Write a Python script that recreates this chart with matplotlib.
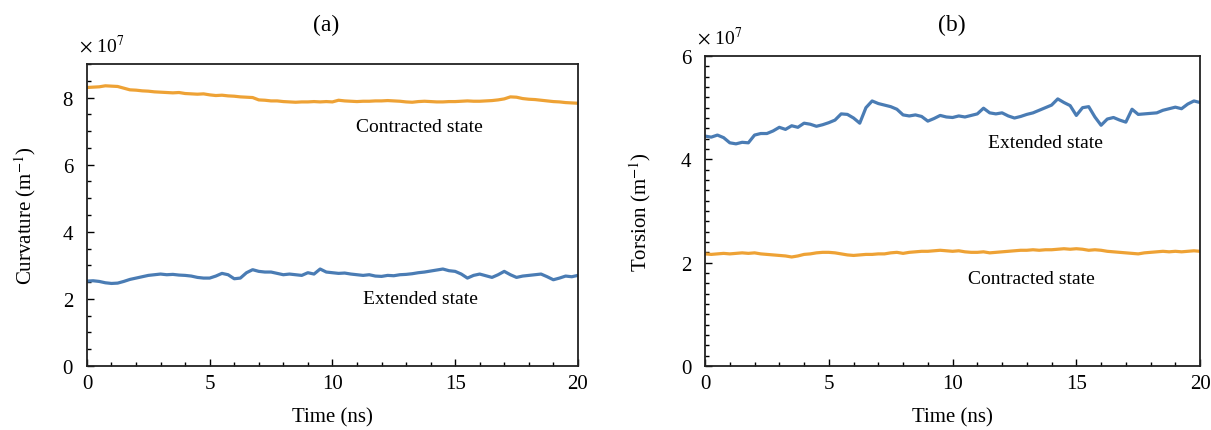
import numpy as np
import matplotlib
matplotlib.use('Agg')
import matplotlib.pyplot as plt
from matplotlib.ticker import MultipleLocator

plt.rcParams['font.family'] = 'Liberation Serif'
plt.rcParams['mathtext.fontset'] = 'stix'

# время моделирования, нс (шаг 0.25)
time_ns = np.arange(0, 20.001, 0.25)

# кривизна, x 1e7 1/м
curv_contracted = [8.30, 8.31, 8.32, 8.35, 8.34, 8.33, 8.28, 8.23, 8.22, 8.20, 8.19, 8.17, 8.16, 8.15, 8.14, 8.15,
	8.12, 8.11, 8.10, 8.11, 8.08, 8.06, 8.07, 8.05, 8.04, 8.02, 8.01, 8.00, 7.93, 7.92, 7.90, 7.90,
	7.88, 7.87, 7.86, 7.87, 7.87, 7.88, 7.87, 7.88, 7.87, 7.92, 7.90, 7.89, 7.88, 7.89, 7.89, 7.90,
	7.90, 7.91, 7.90, 7.89, 7.87, 7.86, 7.88, 7.89, 7.88, 7.87, 7.87, 7.88, 7.88, 7.89, 7.90, 7.89,
	7.89, 7.90, 7.91, 7.93, 7.96, 8.02, 8.01, 7.97, 7.95, 7.94, 7.92, 7.90, 7.88, 7.87, 7.85, 7.84, 7.83]
curv_extended = [2.53, 2.54, 2.52, 2.48, 2.46, 2.47, 2.52, 2.58, 2.62, 2.66, 2.70, 2.72, 2.74, 2.72, 2.73, 2.71,
	2.70, 2.68, 2.64, 2.62, 2.62, 2.68, 2.76, 2.72, 2.60, 2.62, 2.78, 2.87, 2.82, 2.80, 2.80, 2.76,
	2.72, 2.74, 2.72, 2.70, 2.78, 2.74, 2.89, 2.80, 2.78, 2.76, 2.77, 2.74, 2.72, 2.70, 2.72, 2.68,
	2.67, 2.70, 2.69, 2.72, 2.73, 2.75, 2.78, 2.80, 2.83, 2.86, 2.89, 2.84, 2.82, 2.74, 2.62, 2.70,
	2.74, 2.69, 2.64, 2.72, 2.82, 2.72, 2.64, 2.68, 2.70, 2.72, 2.74, 2.66, 2.57, 2.62, 2.68, 2.66, 2.70]

# кручение, x 1e7 1/м
tors_extended = [4.45, 4.43, 4.47, 4.42, 4.32, 4.30, 4.33, 4.32, 4.47, 4.50, 4.50, 4.55, 4.62, 4.58, 4.65, 4.62,
	4.70, 4.68, 4.64, 4.67, 4.71, 4.76, 4.88, 4.87, 4.80, 4.70, 5.00, 5.13, 5.08, 5.05, 5.02, 4.97,
	4.86, 4.84, 4.86, 4.83, 4.74, 4.79, 4.85, 4.82, 4.81, 4.84, 4.82, 4.85, 4.88, 4.99, 4.90, 4.88,
	4.90, 4.84, 4.80, 4.83, 4.87, 4.90, 4.95, 5.00, 5.05, 5.17, 5.10, 5.04, 4.85, 5.00, 5.02, 4.82,
	4.66, 4.78, 4.81, 4.76, 4.72, 4.97, 4.87, 4.88, 4.89, 4.90, 4.95, 4.98, 5.01, 4.98, 5.07, 5.13, 5.10]
tors_contracted = [2.17, 2.16, 2.17, 2.18, 2.17, 2.18, 2.19, 2.18, 2.19, 2.17, 2.16, 2.15, 2.14, 2.13, 2.11, 2.13,
	2.16, 2.17, 2.19, 2.20, 2.20, 2.19, 2.17, 2.15, 2.14, 2.15, 2.16, 2.16, 2.17, 2.17, 2.19, 2.20,
	2.18, 2.20, 2.21, 2.22, 2.22, 2.23, 2.24, 2.23, 2.22, 2.23, 2.21, 2.20, 2.20, 2.21, 2.19, 2.20,
	2.21, 2.22, 2.23, 2.24, 2.24, 2.25, 2.24, 2.25, 2.25, 2.26, 2.27, 2.26, 2.27, 2.26, 2.24, 2.25,
	2.24, 2.22, 2.21, 2.20, 2.19, 2.18, 2.17, 2.19, 2.20, 2.21, 2.22, 2.21, 2.22, 2.21, 2.22, 2.23, 2.22]

orange = '#eea235'
blue = '#4a7cb4'


def setup_axes(ax, ymax, yminor, ylabel, ylabelpad):
	ax.set_xlim(0, 20)
	ax.set_ylim(0, ymax)
	ax.xaxis.set_major_locator(MultipleLocator(5))
	ax.xaxis.set_minor_locator(MultipleLocator(1))
	ax.yaxis.set_major_locator(MultipleLocator(2))
	ax.yaxis.set_minor_locator(MultipleLocator(yminor))
	ax.tick_params(which='both', direction='in', top=False, right=False, labelsize=15)
	ax.tick_params(axis='y', pad=10)
	ax.tick_params(axis='x', pad=6)
	ax.tick_params(which='major', length=5, width=1)
	ax.tick_params(which='minor', length=3, width=1)
	for s in ax.spines.values():
		s.set_linewidth(1.3)
		s.set_color('#222222')
	ax.set_xlabel('Time (ns)', fontsize=15, labelpad=10)
	ax.set_ylabel(ylabel, fontsize=15, labelpad=ylabelpad)
	ax.text(-0.016, 1.04, r'$\times$ 10$^{7}$', transform=ax.transAxes, fontsize=14)


fig = plt.figure(figsize=(12.11, 4.31), dpi=100)
ax1 = fig.add_axes([0.0718, 0.1485, 0.4054, 0.7007])
ax2 = fig.add_axes([0.5822, 0.1485, 0.4088, 0.7192])

ax1.plot(time_ns, curv_contracted, color=orange, lw=2.3)
ax1.plot(time_ns, curv_extended, color=blue, lw=2.3)
setup_axes(ax1, 9, 0.5, 'Curvature (m$^{-1}$)', 18)
ax1.text(13.56, 7.13, 'Contracted state', ha='center', va='center', fontsize=14)
ax1.text(13.6, 2.0, 'Extended state', ha='center', va='center', fontsize=14)
fig.text(0.269, 0.94, '(a)', ha='center', va='center', fontsize=17)

ax2.plot(time_ns, tors_extended, color=blue, lw=2.3)
ax2.plot(time_ns, tors_contracted, color=orange, lw=2.3)
setup_axes(ax2, 6, 0.2, 'Torsion (m$^{-1}$)', 20)
ax2.text(13.74, 4.33, 'Extended state', ha='center', va='center', fontsize=14)
ax2.text(13.2, 1.69, 'Contracted state', ha='center', va='center', fontsize=14)
fig.text(0.786, 0.94, '(b)', ha='center', va='center', fontsize=17)

fig.savefig('out.png', dpi=100)
